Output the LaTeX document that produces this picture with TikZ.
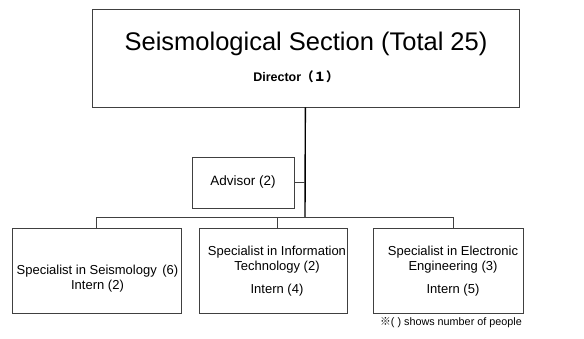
\documentclass[tikz,border=0pt]{standalone}
\usepackage{fontspec}
\setmainfont{Liberation Sans}
\newfontfamily\cjk{Noto Sans CJK JP}
\usetikzlibrary{positioning}

\begin{document}
\begin{tikzpicture}[x=1pt,y=-1pt,
  box/.style={draw=black!75,line width=0.9pt,inner sep=0pt},
  lbl/.style={inner sep=0pt,font=\fontsize{13}{15}\selectfont},
  link/.style={draw=black!75,line width=0.8pt}]
\useasboundingbox (0,0) rectangle (584,338);
\node[box,minimum width=427,minimum height=98] (sect) at (305.5,58) {};
\node[inner sep=0pt,font=\fontsize{25.5}{28}\selectfont] (title) at (306,44) {Seismological Section (Total 25)};
\node[inner sep=0pt,font=\fontsize{12.5}{14}\selectfont\bfseries] (dir) at (296,77) {Director{\cjk （１）}};
\coordinate (bar) at (305,217);
\draw[line width=1.4pt] (sect) -- (bar);
\node[box,minimum width=102,minimum height=51,font=\fontsize{13.5}{15}\selectfont] (adv) at (243,182.5) {Advisor (2)};
\draw[link] (adv.east) -- (adv.east -| bar);
\node[box,minimum width=169,minimum height=85] (sp1) at (96.5,270.5) {};
\node[box,minimum width=148,minimum height=85] (sp2) at (273,270.5) {};
\node[box,minimum width=150,minimum height=85] (sp3) at (448,270.5) {};
\coordinate (b2) at (277,217);
\coordinate (b3) at (453,217);
\draw[link] (sp1.north) |- (b3) -- (b3 |- sp3.north);
\draw[link] (b2) -- (b2 |- sp2.north);
\node[lbl] (sp1a) at (97.5,271) {Specialist in Seismology\hspace{2pt} (6)};
\node[lbl] (sp1b) at (97.5,286.5) {Intern (2)};
\node[lbl] (sp2a) at (277,252) {Specialist in Information};
\node[lbl] (sp2b) at (277,267) {Technology (2)};
\node[lbl] (sp2c) at (277,290) {Intern (4)};
\node[lbl] (sp3a) at (453,252) {Specialist in Electronic};
\node[lbl] (sp3b) at (453,267) {Engineering (3)};
\node[lbl] (sp3c) at (453,290) {Intern (5)};
\node[lbl,anchor=east,font=\fontsize{10.8}{13}\selectfont] (note) at (522,323) {{\cjk ※}( ) shows number of people};
\end{tikzpicture}
\end{document}
